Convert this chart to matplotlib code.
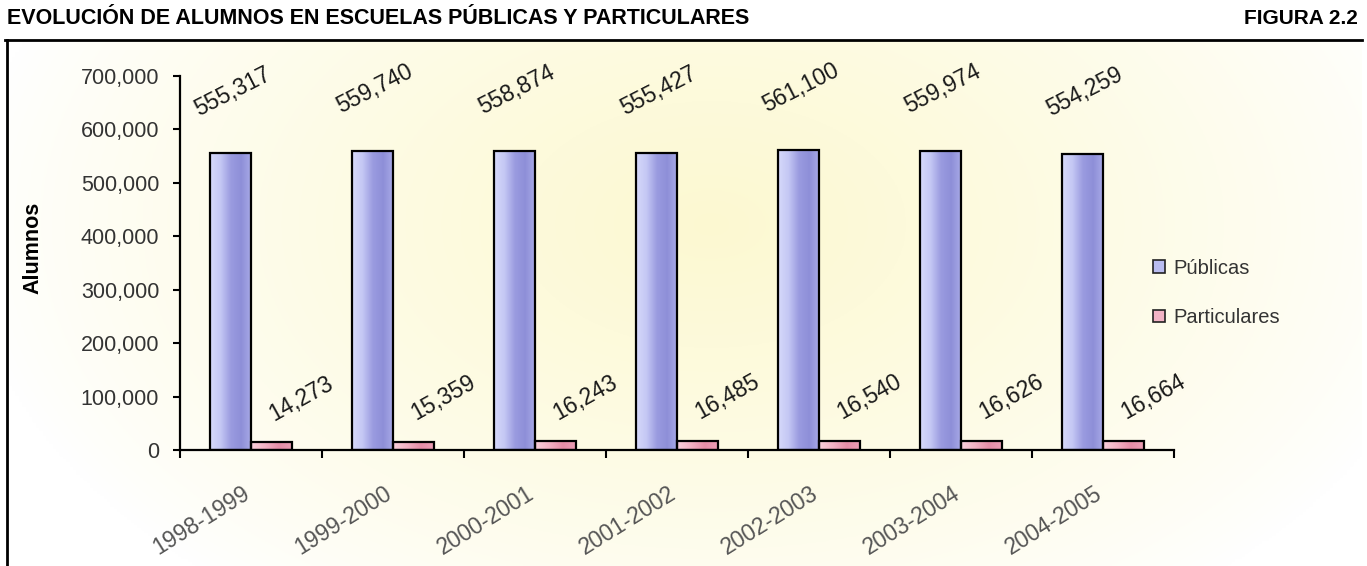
import numpy as np
import matplotlib.pyplot as plt
from matplotlib.colors import LinearSegmentedColormap

plt.rcParams['font.family'] = ['Liberation Sans', 'DejaVu Sans']

# datos
ciclos = ['1998-1999', '1999-2000', '2000-2001', '2001-2002',
          '2002-2003', '2003-2004', '2004-2005']
publicas = [555317, 559740, 558874, 555427, 561100, 559974, 554259]
particulares = [14273, 15359, 16243, 16485, 16540, 16626, 16664]

W, H = 1367, 566
fig = plt.figure(figsize=(W / 100, H / 100), dpi=100)

# fondo degradado (blanco en bordes, crema al centro)
bg = fig.add_axes([7 / W, 0, 1 - 12 / W, 1 - 40 / H], zorder=0)
yy, xx = np.mgrid[0:1:200j, 0:1:400j]
d = np.sqrt(((xx - 0.52) / 0.55) ** 2 + ((yy - 0.65) / 0.9) ** 2)
t = np.clip(1 - d, 0, 1) ** 0.8
col0 = np.array([1.0, 1.0, 1.0])
col1 = np.array([0.99, 0.975, 0.82])
img = col0[None, None, :] * (1 - t[..., None]) + col1[None, None, :] * t[..., None]
bg.imshow(img, aspect='auto', extent=[0, 1, 0, 1], origin='lower')
bg.set_axis_off()

# marco (linea superior e izquierda)
fig.add_artist(plt.Line2D([5 / W, 1362 / W], [1 - 40 / H, 1 - 40 / H],
                          color='black', lw=2, transform=fig.transFigure))
fig.add_artist(plt.Line2D([7 / W, 7 / W], [0, 1 - 40 / H],
                          color='black', lw=2, transform=fig.transFigure))

fig.text(7 / W, 1 - 18 / H, 'EVOLUCIÓN DE ALUMNOS EN ESCUELAS PÚBLICAS Y PARTICULARES',
         fontsize=15.5, fontweight='bold', va='center', ha='left')
fig.text(1358 / W, 1 - 18 / H, 'FIGURA 2.2', fontsize=15, fontweight='bold',
         va='center', ha='right')

ax = fig.add_axes([180 / W, 1 - 450 / H, (1174 - 180) / W, (450 - 76) / H], zorder=1)
ax.set_facecolor('none')

x = np.arange(len(ciclos))
w = 0.29

cmap_pub = LinearSegmentedColormap.from_list(
    'pub', ['#d6d9fa', '#c4c7f4', '#9a9be0', '#8e8fd8', '#a9abe8'])
cmap_par = LinearSegmentedColormap.from_list(
    'par', ['#fad0dc', '#f3b2c4', '#e58ea8', '#ec9fb5'])
grad = np.linspace(0, 1, 100)[None, :]

bars_pub = ax.bar(x - w / 2, publicas, w, color='none', edgecolor='black', lw=1.6, zorder=3)
bars_par = ax.bar(x + w / 2, particulares, w, color='none', edgecolor='black', lw=1.6, zorder=3)

for bars, cmap in ((bars_pub, cmap_pub), (bars_par, cmap_par)):
    for b in bars:
        x0, y0 = b.get_x(), b.get_y()
        im = ax.imshow(grad, cmap=cmap, aspect='auto', zorder=2,
                       extent=[x0, x0 + b.get_width(), y0, y0 + b.get_height()])
        im.set_clip_path(b)

for b, v in zip(bars_pub, publicas):
    ax.annotate(f'{v:,}', (b.get_x() + b.get_width() / 2, v),
                xytext=(2, 62), textcoords='offset pixels',
                ha='center', va='center', rotation=27, fontsize=16.5, color='#1a1a1a')
for b, v in zip(bars_par, particulares):
    ax.annotate(f'{v:,}', (b.get_x() + b.get_width() / 2, v),
                xytext=(30, 44), textcoords='offset pixels',
                ha='center', va='center', rotation=29, fontsize=16.5, color='#1a1a1a')

# etiquetas del eje x
for xi, c in zip(x, ciclos):
    ax.annotate(c, (xi, 0), xytext=(-9, -32), textcoords='offset pixels',
                ha='right', va='top', rotation=32, rotation_mode='anchor',
                fontsize=16.5, color='#555555', annotation_clip=False)

ax.set_xlim(-0.5, len(ciclos) - 0.5)
ax.set_ylim(0, 700000)
ax.set_yticks(np.arange(0, 700001, 100000))
ax.yaxis.set_major_formatter(plt.FuncFormatter(lambda v, p: f'{int(v):,}'))
ax.tick_params(axis='y', labelsize=15.5, labelcolor='#333333', length=5, width=1.5, pad=10)

ax.set_xticks(np.arange(-0.5, len(ciclos), 1))
ax.set_xticklabels([])
ax.tick_params(axis='x', which='major', length=6, width=1.5)

for s in ('top', 'right'):
    ax.spines[s].set_visible(False)
for s in ('left', 'bottom'):
    ax.spines[s].set_linewidth(1.6)

ax.set_ylabel('Alumnos', fontsize=15.5, fontweight='bold')
ax.yaxis.set_label_coords(-0.137, 0.54)

# leyenda
leg = ax.legend([plt.Rectangle((0, 0), 1, 1, fc='#b9bcf0', ec='#222222', lw=1.2),
                 plt.Rectangle((0, 0), 1, 1, fc='#f2b3c5', ec='#222222', lw=1.2)],
                ['Públicas', 'Particulares'], loc='center left',
                bbox_to_anchor=(1135 / W, 1 - 293 / H), bbox_transform=fig.transFigure,
                frameon=False, fontsize=14.5, handlelength=0.6, handleheight=0.6,
                handletextpad=0.4, labelspacing=1.5, labelcolor='#333333')

fig.savefig('out.png', dpi=100)
